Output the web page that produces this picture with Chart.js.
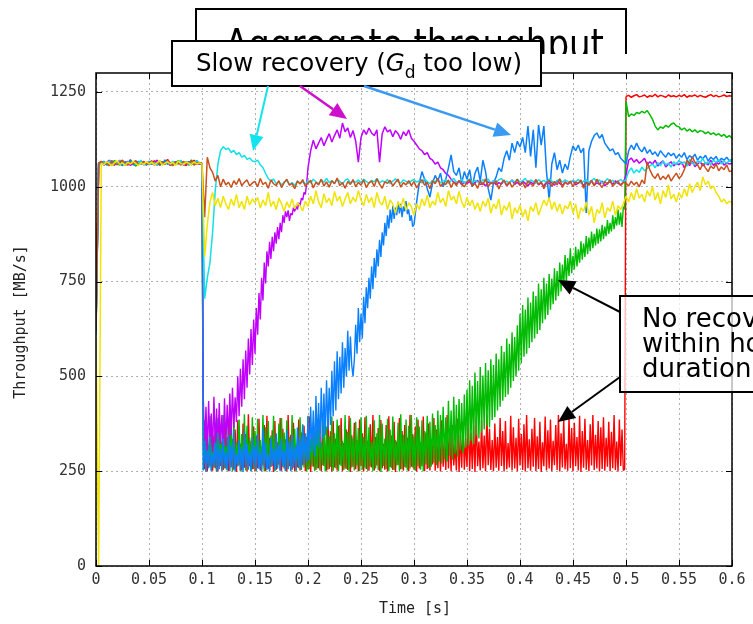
<!DOCTYPE html>
<html>
<head>
<meta charset="utf-8">
<script src="https://cdn.jsdelivr.net/npm/chart.js@4.4.1/dist/chart.umd.min.js"></script>
<style>
  html, body { margin: 0; padding: 0; background: #fff; }
  #plot { display: block; }
</style>
</head>
<body>
<canvas id="plot" width="753" height="624"></canvas>
<script>
// Aggregate throughput of seven flows. Steady stretches are sampled every 2.5 ms,
// congested stretches every 1.25 ms.
const STEP = 0.0025;
const FINE_STEP = 0.00125;
const X_TICKS = [0, 0.05, 0.1, 0.15, 0.2, 0.25, 0.3, 0.35, 0.4, 0.45, 0.5, 0.55, 0.6];
const Y_TICKS = [0, 250, 500, 750, 1000, 1250];

// ---- yellow, whole run from 0 s, 2.5 ms samples
const yellowFlow = [
  600, 0, 1062, 1058, 1066, 1061, 1055, 1064, 1068, 1059, 1063, 1057, 1065, 1060, 1067, 1062, 1056, 1064, 1059, 1066,
  1060, 1065, 1058, 1063, 1069, 1057, 1062, 1066, 1060, 1064, 1056, 1068, 1061, 1059, 1065, 1062, 1058, 1066, 1060, 1063,
  1060, 815, 900, 960, 985, 950, 970, 945, 975, 955, 940, 968, 950, 980, 945, 962, 940, 975, 952, 968,
  958, 972, 944, 965, 950, 985, 948, 962, 940, 970, 955, 935, 960, 945, 968, 942, 958, 950, 936, 962,
  948, 975, 955, 990, 960, 945, 982, 958, 970, 950, 988, 962, 975, 948, 968, 985, 955, 972, 960, 990,
  965, 950, 980, 958, 972, 945, 985, 960, 952, 975, 940, 965, 955, 930, 960, 945, 970, 938, 958, 948,
  925, 955, 940, 968, 950, 978, 945, 962, 952, 985, 958, 970, 948, 990, 965, 975, 955, 988, 960, 945,
  972, 950, 965, 940, 958, 935, 962, 948, 970, 930, 955, 942, 968, 925, 950, 938, 960, 915, 945, 930,
  952, 920, 940, 910, 948, 935, 958, 925, 945, 965, 950, 972, 940, 960, 935, 955, 928, 950, 942, 962,
  930, 955, 915, 945, 935, 960, 925, 948, 905, 940, 930, 958, 918, 945, 935, 962, 925, 950, 940, 955,
  975, 960, 985, 965, 995, 970, 980, 960, 990, 975, 1000, 965, 985, 955, 990, 972, 1005, 968, 980, 960,
  985, 970, 995, 975, 1008, 985, 1000, 1012, 990, 1026, 1005, 1015, 995, 1002, 985, 975, 960, 968, 955, 962,
  958
];

// ---- brown, whole run from 0 s, 2.5 ms samples
const brownFlow = [
  620, 1061, 1067, 1059, 1063, 1056, 1068, 1062, 1058, 1065, 1070, 1060, 1057, 1064, 1061, 1069, 1058, 1063, 1066, 1060,
  1062, 1068, 1057, 1064, 1060, 1066, 1059, 1070, 1061, 1056, 1065, 1063, 1058, 1067, 1062, 1060, 1069, 1057, 1064, 1061,
  1062, 920, 1078, 1050, 1038, 1015, 1030, 1000, 1020, 1005, 1012, 998, 1016, 1006, 1022, 1003, 1012, 1018, 1002, 1010,
  1014, 1000, 1022, 1006, 1012, 996, 1018, 1008, 1003, 1016, 998, 1011, 1020, 1004, 1009, 995, 1015, 1007, 1019, 1001,
  1010, 1017, 997, 1012, 1005, 1020, 1002, 1013, 999, 1016, 1008, 1023, 1003, 1011, 996, 1014, 1006, 1019, 1000, 1012,
  1004, 1018, 998, 1010, 1015, 1001, 1021, 1007, 996, 1013, 1009, 1017, 1002, 1012, 1020, 999, 1011, 1005, 1016, 1003,
  1014, 997, 1009, 1019, 1004, 1012, 995, 1016, 1008, 1022, 1001, 1010, 1006, 1018, 998, 1013, 1003, 1017, 1007, 1000,
  1012, 1019, 1002, 1009, 996, 1015, 1005, 1021, 1000, 1011, 1007, 1016, 994, 1010, 1018, 1003, 1013, 999, 1008, 1020,
  1004, 1011, 997, 1016, 1008, 1002, 1019, 1006, 1013, 995, 1010, 1017, 1001, 1014, 1005, 1021, 998, 1012, 1007, 1015,
  1000, 1013, 1009, 1018, 996, 1011, 1004, 1016, 1002, 1020, 1007, 998, 1014, 1006, 1019, 1001, 1010, 1015, 1003, 1012,
  1010, 1002, 1015, 1005, 1012, 1000, 1018, 1008, 1065, 1045, 1030, 1022, 1035, 1018, 1028, 1020, 1032, 1015, 1026, 1036,
  1022, 1030, 1045, 1070, 1060, 1079, 1065, 1058, 1045, 1062, 1050, 1040, 1055, 1048, 1060, 1042, 1052, 1045, 1058, 1040,
  1042
];

// ---- cyan, whole run from 0 s, 2.5 ms samples
const cyanFlow = [
  610, 1063, 1058, 1066, 1061, 1068, 1057, 1064, 1060, 1069, 1062, 1056, 1065, 1061, 1067, 1059, 1063, 1070, 1058, 1062,
  1066, 1060, 1064, 1057, 1069, 1062, 1059, 1065, 1061, 1067, 1058, 1063, 1070, 1060, 1064, 1056, 1066, 1061, 1068, 1062,
  1062, 705, 760, 800, 880, 990, 1060, 1095, 1106, 1098, 1102, 1090, 1096, 1085, 1090, 1078, 1083, 1072, 1076, 1068,
  1066, 1070, 1058, 1050, 1035, 1022, 1015, 1020, 1008, 1014, 1005, 1012, 1017, 1006, 1011, 1003, 1015, 1009, 1013, 1007,
  1016, 1010, 1020, 1013, 1008, 1018, 1012, 1022, 1011, 1016, 1009, 1019, 1014, 1007, 1017, 1021, 1010, 1015, 1012, 1018,
  1011, 1020, 1014, 1009, 1017, 1013, 1022, 1010, 1016, 1012, 1019, 1008, 1015, 1021, 1013, 1010, 1018, 1014, 1009, 1016,
  1019, 1012, 1016, 1010, 1021, 1014, 1008, 1017, 1013, 1020, 1011, 1015, 1018, 1009, 1016, 1022, 1012, 1014, 1019, 1010,
  1015, 1021, 1011, 1017, 1013, 1009, 1019, 1014, 1020, 1010, 1016, 1012, 1018, 1022, 1011, 1015, 1009, 1017, 1013, 1020,
  1012, 1016, 1022, 1010, 1018, 1014, 1009, 1019, 1013, 1017, 1011, 1021, 1015, 1008, 1016, 1020, 1012, 1018, 1014, 1010,
  1017, 1013, 1020, 1009, 1015, 1019, 1011, 1016, 1022, 1012, 1018, 1010, 1014, 1021, 1013, 1017, 1008, 1015, 1019, 1012,
  1020, 1040, 1050, 1036, 1045, 1038, 1052, 1042, 1048, 1055, 1060, 1050, 1064, 1055, 1068, 1058, 1062, 1052, 1066, 1058,
  1070, 1060, 1066, 1054, 1072, 1062, 1058, 1068, 1064, 1075, 1060, 1066, 1058, 1070, 1064, 1072, 1060, 1068, 1062, 1070,
  1065
];

// ---- blue: 0-0.0975 s (2.5 ms), 0.1-0.29875 s (1.25 ms), 0.3-0.6 s (2.5 ms)
const blueStart = [
  615, 1064, 1060, 1067, 1057, 1062, 1069, 1059, 1065, 1061, 1056, 1066, 1063, 1070, 1058, 1062, 1067, 1060, 1064, 1057,
  1063, 1068, 1059, 1062, 1066, 1058, 1071, 1060, 1064, 1057, 1065, 1061, 1068, 1059, 1063, 1066, 1058, 1062, 1069, 1061
];
const blueCongested = [
  1061, 252, 330, 248, 305, 258, 342, 250, 298, 262, 325, 249, 352, 255, 310, 251, 336, 260, 300, 253,
  345, 250, 318, 257, 360, 249, 296, 263, 332, 252, 312, 248, 355, 259, 322, 254, 302, 250, 340, 261,
  315, 251, 348, 256, 300, 250, 362, 258, 326, 253, 294, 249, 338, 264, 310, 252, 350, 257, 320, 250,
  335, 262, 305, 251, 358, 255, 328, 250, 346, 259, 315, 253, 365, 260, 340, 256, 372, 268, 350, 275,
  395, 280, 420, 300, 410, 290, 448, 318, 430, 310, 470, 335, 455, 345, 490, 360, 470, 372, 515, 395,
  540, 410, 566, 440, 552, 455, 590, 470, 575, 500, 620, 515, 605, 530, 500, 545, 636, 560, 680, 590,
  665, 600, 710, 640, 735, 680, 760, 705, 790, 730, 812, 760, 835, 790, 860, 815, 880, 845, 905, 870,
  925, 890, 940, 905, 950, 915, 945, 925, 960, 930, 955, 920, 948, 935, 962, 928, 940, 910, 925, 895
];
const blueEnd = [
  900, 960, 1010, 1040, 1020, 995, 973, 1010, 1030, 1015, 1036, 1000, 1020, 1050, 1084, 1040, 1030, 1050, 1010, 1040,
  1020, 1045, 1000, 1035, 1052, 1015, 1070, 1040, 995, 965, 1010, 1026, 1050, 1040, 1075, 1095, 1070, 1115, 1090, 1120,
  1105, 1130, 1090, 1160, 1080, 1150, 1050, 1163, 1110, 1160, 1040, 965, 1060, 1090, 1045, 1070, 1036, 1060, 1045, 1080,
  1108, 1095, 1110, 1090, 1102, 931, 1095, 1120, 1135, 1142, 1128, 1138, 1115, 1105, 1095, 1100, 1085, 1090, 1075, 1068,
  1060, 1095, 1110, 1098, 1115, 1100, 1092, 1105, 1088, 1098, 1085, 1092, 1080, 1095, 1086, 1078, 1090, 1082, 1088, 1075,
  1085, 1078, 1090, 1072, 1082, 1076, 1086, 1070, 1080, 1074, 1083, 1068, 1078, 1072, 1080, 1066, 1075, 1070, 1078, 1068,
  1072
];

// ---- magenta: 0-0.0975 s (2.5 ms), 0.1-0.19875 s (1.25 ms), 0.2-0.6 s (2.5 ms)
const magentaStart = [
  625, 1060, 1066, 1057, 1063, 1069, 1061, 1058, 1064, 1070, 1059, 1062, 1067, 1056, 1063, 1068, 1060, 1065, 1058, 1062,
  1067, 1059, 1063, 1070, 1058, 1064, 1061, 1068, 1056, 1062, 1066, 1060, 1069, 1057, 1064, 1062, 1067, 1059, 1063, 1060
];
const magentaCongested = [
  1062, 440, 305, 420, 298, 435, 312, 402, 300, 446, 318, 415, 296, 430, 322, 398, 305, 442, 315, 425,
  330, 455, 345, 470, 365, 445, 380, 500, 395, 520, 420, 545, 440, 568, 470, 600, 505, 625, 530, 650,
  560, 680, 610, 720, 650, 760, 700, 800, 745, 830, 790, 855, 810, 868, 830, 880, 850, 894, 862, 905,
  880, 925, 905, 935, 920, 938, 910, 930, 925, 945, 935, 950, 940, 958, 950, 970, 965, 985, 980, 1010
];
const magentaEnd = [
  1050, 1095, 1123, 1100, 1115, 1130, 1108, 1125, 1140, 1118, 1135, 1150, 1128, 1168, 1145, 1155, 1130, 1148, 1120, 1065,
  1130, 1150, 1138, 1155, 1142, 1135, 1150, 1065, 1140, 1158, 1145, 1150, 1132, 1148, 1140, 1125, 1145, 1135, 1150, 1128,
  1120, 1110, 1100, 1095, 1085, 1090, 1075, 1070, 1060, 1065, 1050, 1045, 1035, 1030, 1020, 1012, 1008, 1015, 1005, 1012,
  1008, 1014, 1003, 1011, 1017, 1006, 1010, 1002, 1013, 1008, 1016, 1005, 1011, 1007, 1015, 1003, 1010, 1018, 1006, 1012,
  1004, 1015, 1009, 1002, 1013, 1007, 1018, 1005, 1011, 1001, 1014, 1008, 1012, 1004, 1016, 1009, 1003, 1013, 1007, 1011,
  1016, 1005, 1010, 1014, 1003, 1012, 1008, 1017, 1004, 1011, 1006, 1015, 1002, 1010, 1013, 1007, 1016, 1009, 1005, 1012,
  1030, 1070, 1076, 1065, 1072, 1062, 1068, 1075, 1058, 1066, 1060, 1070, 1055, 1063, 1068, 1052, 1060, 1066, 1055, 1062,
  1058, 1065, 1050, 1062, 1056, 1068, 1053, 1060, 1066, 1055, 1063, 1058, 1070, 1056, 1064, 1060, 1068, 1057, 1063, 1060,
  1062
];

// ---- green: 0-0.0975 s (2.5 ms), 0.1-0.49875 s (1.25 ms), 0.5-0.6 s (2.5 ms)
const greenStart = [
  620, 1058, 1063, 1067, 1060, 1056, 1064, 1069, 1061, 1057, 1066, 1062, 1059, 1068, 1063, 1055, 1061, 1066, 1060, 1064,
  1058, 1065, 1061, 1070, 1056, 1062, 1067, 1060, 1064, 1057, 1063, 1069, 1058, 1061, 1066, 1060, 1071, 1059, 1063, 1060
];
const greenCongested = [
  1060, 256, 384, 250, 342, 262, 396, 253, 328, 259, 372, 249, 390, 264, 350, 251, 398, 257, 336, 252,
  380, 260, 362, 250, 394, 255, 326, 263, 386, 249, 348, 258, 400, 252, 370, 266, 338, 250, 392, 256,
  356, 251, 388, 261, 332, 254, 398, 249, 366, 259, 382, 252, 344, 265, 396, 250, 324, 257, 376, 253,
  390, 262, 352, 250, 384, 256, 340, 251, 398, 264, 362, 249, 330, 258, 392, 253, 374, 260, 346, 250,
  396, 255, 334, 263, 380, 250, 358, 257, 400, 252, 326, 266, 388, 249, 368, 254, 342, 261, 394, 251,
  350, 258, 386, 250, 372, 264, 330, 253, 398, 256, 354, 249, 390, 260, 338, 252, 380, 265, 364, 250,
  392, 254, 340, 259, 396, 251, 366, 262, 328, 250, 384, 257, 350, 253, 398, 248, 376, 264, 336, 256,
  388, 250, 360, 258, 394, 253, 332, 266, 378, 249, 400, 255, 346, 261, 386, 252, 370, 257, 398, 260,
  344, 251, 392, 263, 368, 254, 384, 250, 356, 268, 396, 258, 380, 262, 402, 272, 372, 266, 410, 276,
  398, 270, 420, 282, 392, 275, 436, 290, 410, 280, 446, 296, 425, 288, 440, 305, 430, 298, 452, 312,
  465, 318, 490, 330, 475, 322, 510, 345, 488, 336, 525, 352, 502, 360, 535, 370, 516, 365, 545, 385,
  530, 392, 560, 410, 545, 420, 580, 436, 565, 446, 600, 452, 586, 470, 616, 488, 604, 500, 635, 515,
  665, 535, 688, 552, 676, 560, 708, 575, 695, 590, 724, 600, 712, 612, 745, 622, 730, 640, 760, 650,
  745, 662, 770, 676, 758, 690, 785, 700, 778, 712, 800, 724, 795, 740, 820, 750, 812, 765, 838, 772,
  818, 782, 842, 790, 835, 800, 856, 808, 850, 815, 870, 822, 866, 830, 882, 838, 876, 845, 890, 850,
  888, 856, 900, 862, 895, 870, 912, 876, 905, 882, 925, 888, 920, 898, 940, 900, 932, 894, 948, 940
];
const greenEnd = [
  1225, 1185, 1192, 1188, 1196, 1193, 1199, 1195, 1201, 1190, 1178, 1160, 1150, 1158, 1154, 1162, 1157, 1165, 1168, 1160,
  1158, 1150, 1155, 1147, 1152, 1145, 1150, 1143, 1148, 1146, 1140, 1145, 1138, 1142, 1136, 1140, 1133, 1138, 1130, 1135,
  1128
];

// ---- red: 0-0.0975 s (2.5 ms), 0.1-0.49875 s (1.25 ms), 0.5-0.6 s (2.5 ms)
const redStart = [
  630, 1062, 1066, 1058, 1064, 1070, 1060, 1057, 1066, 1062, 1068, 1059, 1063, 1071, 1060, 1056, 1065, 1061, 1067, 1058,
  1064, 1060, 1069, 1057, 1063, 1066, 1059, 1072, 1061, 1058, 1065, 1063, 1068, 1060, 1056, 1066, 1062, 1070, 1059, 1064
];
const redCongested = [
  1062, 330, 255, 372, 250, 318, 262, 390, 251, 345, 258, 365, 249, 398, 264, 326, 253, 380, 257, 340,
  250, 392, 261, 335, 254, 360, 248, 384, 266, 322, 252, 376, 259, 348, 250, 400, 263, 330, 255, 368,
  249, 344, 258, 388, 252, 315, 265, 372, 250, 396, 256, 338, 261, 358, 248, 382, 254, 326, 268, 390,
  251, 362, 257, 334, 250, 398, 263, 346, 254, 378, 249, 320, 260, 386, 252, 352, 266, 370, 250, 340,
  255, 394, 248, 328, 262, 366, 253, 388, 258, 342, 250, 375, 264, 318, 251, 399, 256, 355, 249, 382,
  260, 336, 252, 370, 267, 390, 250, 324, 257, 360, 253, 396, 248, 345, 262, 378, 255, 332, 250, 386,
  263, 350, 249, 392, 256, 330, 251, 374, 260, 398, 252, 340, 265, 364, 250, 385, 258, 322, 254, 372,
  250, 395, 261, 344, 253, 380, 248, 328, 266, 390, 255, 356, 251, 372, 259, 338, 250, 399, 262, 348,
  254, 368, 249, 386, 257, 326, 263, 394, 250, 352, 256, 376, 252, 334, 268, 390, 251, 360, 258, 342,
  249, 384, 262, 330, 253, 398, 257, 358, 250, 372, 265, 320, 252, 388, 248, 346, 259, 380, 254, 336,
  261, 392, 250, 352, 256, 370, 248, 394, 263, 328, 252, 384, 258, 344, 250, 400, 266, 362, 253, 332,
  250, 376, 259, 340, 251, 390, 264, 356, 249, 382, 255, 324, 260, 396, 252, 366, 257, 338, 250, 388,
  265, 348, 253, 374, 249, 398, 258, 334, 251, 362, 262, 390, 250, 342, 256, 380, 248, 326, 263, 394,
  252, 358, 257, 386, 250, 330, 266, 372, 253, 398, 249, 350, 260, 384, 255, 322, 251, 392, 258, 364,
  250, 378, 263, 340, 252, 396, 248, 356, 259, 388, 254, 332, 250, 374, 265, 398, 253, 346, 257, 382,
  249, 366, 256, 392, 251, 338, 262, 380, 250, 354, 258, 398, 253, 328, 249, 386, 264, 360, 252, 255
];
const redEnd = [
  1238, 1241, 1236, 1240, 1243, 1237, 1239, 1242, 1236, 1240, 1238, 1244, 1237, 1241, 1239, 1236, 1242, 1238, 1240, 1237,
  1241, 1238, 1243, 1236, 1240, 1239, 1242, 1237, 1241, 1238, 1236, 1240, 1243, 1238, 1241, 1237, 1239, 1242, 1238, 1240,
  1239
];

const TITLE = 'Aggregate throughput';
const NOTE_SLOW = ['Slow recovery (', 'G', 'd', ' too low)'];
const NOTE_HOLD = ['No recovery', 'within hold', 'duration'];
const X_TITLE = 'Time [s]';
const Y_TITLE = 'Throughput [MB/s]';

// samples of one stretch, starting at t0 and spaced dt apart
function piece(t0, dt, values) {
  return values.map((v, i) => ({ x: Math.round((t0 + i * dt) * 100000) / 100000, y: v }));
}

// densely sampled stretches get their own stroke width
function segmentWidth(c) {
  return (c.p1.parsed.x - c.p0.parsed.x) < 0.002 ? 1.4 : 1.5;
}

function flow(color, points) {
  return {
    data: points,
    borderColor: color,
    borderWidth: 1.5,
    pointRadius: 0,
    tension: 0,
    fill: false,
    borderJoinStyle: 'bevel',
    segment: { borderWidth: segmentWidth }
  };
}

function drawArrow(ctx, x1, y1, x2, y2, color, width, headLen, headWid) {
  const a = Math.atan2(y2 - y1, x2 - x1);
  const bx = x2 - headLen * Math.cos(a);
  const by = y2 - headLen * Math.sin(a);
  ctx.strokeStyle = color;
  ctx.lineWidth = width;
  ctx.beginPath();
  ctx.moveTo(x1, y1);
  ctx.lineTo(bx, by);
  ctx.stroke();
  ctx.fillStyle = color;
  ctx.beginPath();
  ctx.moveTo(x2, y2);
  ctx.lineTo(bx + headWid / 2 * Math.sin(a), by - headWid / 2 * Math.cos(a));
  ctx.lineTo(bx - headWid / 2 * Math.sin(a), by + headWid / 2 * Math.cos(a));
  ctx.closePath();
  ctx.fill();
}

// gnuplot-style frame with inward tick marks on all four sides
const framePlugin = {
  id: 'frame',
  afterDatasetsDraw(chart) {
    const { ctx, chartArea: a, scales } = chart;
    ctx.save();
    ctx.strokeStyle = '#000';
    ctx.lineWidth = 1;
    ctx.beginPath();
    X_TICKS.forEach(v => {
      const px = Math.round(scales.x.getPixelForValue(v)) + 0.5;
      ctx.moveTo(px, a.bottom); ctx.lineTo(px, a.bottom - 6);
      ctx.moveTo(px, a.top); ctx.lineTo(px, a.top + 6);
    });
    Y_TICKS.forEach(v => {
      const py = Math.round(scales.y.getPixelForValue(v)) + 0.5;
      ctx.moveTo(a.left, py); ctx.lineTo(a.left + 6, py);
      ctx.moveTo(a.right, py); ctx.lineTo(a.right - 6, py);
    });
    ctx.stroke();
    ctx.lineWidth = 1.5;
    ctx.strokeRect(a.left, a.top, a.right - a.left, a.bottom - a.top);
    ctx.restore();
  }
};

const notesPlugin = {
  id: 'notes',
  afterDraw(chart) {
    const ctx = chart.ctx;
    ctx.save();

    // axis titles
    ctx.fillStyle = '#222';
    ctx.font = '15px "DejaVu Sans Mono"';
    ctx.textAlign = 'center';
    ctx.textBaseline = 'middle';
    ctx.fillText(X_TITLE, 415, 609);
    ctx.save();
    ctx.translate(21, 322);
    ctx.rotate(-Math.PI / 2);
    ctx.fillText(Y_TITLE, 0, 0);
    ctx.restore();

    ctx.textAlign = 'left';
    ctx.textBaseline = 'alphabetic';

    // title box, cut off along its lower edge
    ctx.save();
    ctx.beginPath();
    ctx.rect(0, 0, 753, 54);
    ctx.clip();
    ctx.fillStyle = '#fff';
    ctx.fillRect(196, 9, 430, 80);
    ctx.strokeStyle = '#000';
    ctx.lineWidth = 2;
    ctx.strokeRect(196, 9, 430, 80);
    ctx.font = '36px "DejaVu Sans"';
    const tw = ctx.measureText(TITLE).width;
    const tSize = 36 * 379 / tw;
    ctx.font = tSize.toFixed(1) + 'px "DejaVu Sans"';
    ctx.fillStyle = '#000';
    ctx.translate(225, 58);
    ctx.scale(1, 1.2);
    ctx.fillText(TITLE, 0, 0);
    ctx.restore();

    // "slow recovery" callout
    ctx.fillStyle = '#fff';
    ctx.fillRect(172, 41, 369, 45);
    ctx.strokeStyle = '#000';
    ctx.lineWidth = 2;
    ctx.strokeRect(172, 41, 369, 45);
    const base = 24;
    const fN = s => s.toFixed(1) + 'px "DejaVu Sans"';
    const fI = s => 'italic ' + s.toFixed(1) + 'px "DejaVu Sans"';
    const fS = s => (s * 0.7).toFixed(1) + 'px "DejaVu Sans"';
    const widthAt = s => {
      ctx.font = fN(s); let w = ctx.measureText(NOTE_SLOW[0]).width + ctx.measureText(NOTE_SLOW[3]).width;
      ctx.font = fI(s); w += ctx.measureText(NOTE_SLOW[1]).width;
      ctx.font = fS(s); w += ctx.measureText(NOTE_SLOW[2]).width;
      return w;
    };
    const sSize = base * 326 / widthAt(base);
    let cx = 196;
    ctx.fillStyle = '#000';
    ctx.font = fN(sSize); ctx.fillText(NOTE_SLOW[0], cx, 71); cx += ctx.measureText(NOTE_SLOW[0]).width;
    ctx.font = fI(sSize); ctx.fillText(NOTE_SLOW[1], cx, 71); cx += ctx.measureText(NOTE_SLOW[1]).width;
    ctx.font = fS(sSize); ctx.fillText(NOTE_SLOW[2], cx, 78); cx += ctx.measureText(NOTE_SLOW[2]).width;
    ctx.font = fN(sSize); ctx.fillText(NOTE_SLOW[3], cx, 71);

    drawArrow(ctx, 268, 86, 253, 151, '#12e3ee', 2, 16, 14);
    drawArrow(ctx, 300, 86, 347, 119, '#cc10cc', 2.5, 17, 15);
    drawArrow(ctx, 364, 86, 511, 135, '#3a9af2', 2.5, 17, 15);

    // "no recovery" callout, partly see-through
    ctx.fillStyle = 'rgba(255,255,255,0.72)';
    ctx.fillRect(620, 296, 140, 96);
    ctx.strokeStyle = '#000';
    ctx.lineWidth = 2;
    ctx.strokeRect(620, 296, 140, 96);
    ctx.fillStyle = '#000';
    ctx.font = '26px "DejaVu Sans"';
    NOTE_HOLD.forEach((line, k) => ctx.fillText(line, 642, 327 + 25 * k));

    drawArrow(ctx, 620, 312, 558, 280, '#000', 2, 17, 15);
    drawArrow(ctx, 620, 377, 558, 422, '#000', 2, 17, 15);

    ctx.restore();
  }
};

const tickFont = { family: 'DejaVu Sans Mono', size: 15 };

new Chart(document.getElementById('plot'), {
  type: 'line',
  data: {
    datasets: [
      flow('#f0e400', piece(0, STEP, yellowFlow)),
      flow('#c8501c', piece(0, STEP, brownFlow)),
      flow('#12e0e6', piece(0, STEP, cyanFlow)),
      flow('#0a80ff', [...piece(0, STEP, blueStart), ...piece(0.1, FINE_STEP, blueCongested), ...piece(0.3, STEP, blueEnd)]),
      flow('#c000ff', [...piece(0, STEP, magentaStart), ...piece(0.1, FINE_STEP, magentaCongested), ...piece(0.2, STEP, magentaEnd)]),
      flow('#00bb00', [...piece(0, STEP, greenStart), ...piece(0.1, FINE_STEP, greenCongested), ...piece(0.5, STEP, greenEnd)]),
      flow('#ff0000', [...piece(0, STEP, redStart), ...piece(0.1, FINE_STEP, redCongested), ...piece(0.5, STEP, redEnd)])
    ]
  },
  options: {
    responsive: false,
    devicePixelRatio: 1,
    animation: false,
    events: [],
    parsing: false,
    layout: { padding: { top: 73, right: 21, left: 0, bottom: 0 } },
    plugins: { legend: { display: false }, tooltip: { enabled: false } },
    scales: {
      x: {
        type: 'linear',
        min: 0,
        max: 0.6,
        afterFit(s) { s.height = 58; },
        afterBuildTicks(s) { s.ticks = X_TICKS.map(v => ({ value: v })); },
        ticks: {
          callback: v => String(+Number(v).toFixed(2)),
          font: tickFont,
          color: '#333',
          padding: 5,
          maxRotation: 0,
          autoSkip: false
        },
        grid: { color: '#b0b0b0', lineWidth: 1, drawTicks: false },
        border: { display: false, dash: [2, 3] }
      },
      y: {
        type: 'linear',
        min: 0,
        max: 1300,
        afterFit(s) { s.width = 96; },
        afterBuildTicks(s) { s.ticks = Y_TICKS.map(v => ({ value: v })); },
        ticks: {
          callback: v => String(v),
          font: tickFont,
          color: '#333',
          padding: 10
        },
        grid: { color: '#b0b0b0', lineWidth: 1, drawTicks: false },
        border: { display: false, dash: [2, 3] }
      }
    }
  },
  plugins: [framePlugin, notesPlugin]
});
</script>
</body>
</html>
